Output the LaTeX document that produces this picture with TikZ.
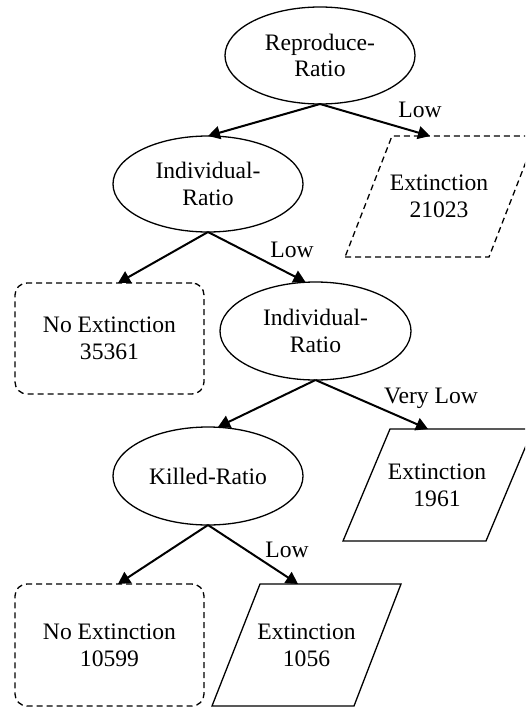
\documentclass[tikz,border=0pt]{standalone}
\usepackage{fontspec}
\setmainfont{Liberation Serif}
\usetikzlibrary{shapes.geometric,arrows.meta}
\tikzset{
  base/.style={font=\fontsize{23.6}{26.8}\selectfont, align=center, inner sep=0pt, outer sep=0pt, line width=1.3pt},
  decision/.style={base, draw, ellipse, minimum width=190pt, minimum height=97pt},
  leafbox/.style={base, draw, rounded corners=12pt, dash pattern=on 6pt off 4pt, minimum width=189pt},
  txt/.style={base},
  shapeline/.style={line width=1.3pt, line join=miter},
  dashline/.style={shapeline, dash pattern=on 6pt off 4pt},
  conn/.style={line width=2pt, -{Triangle[length=12pt,width=13pt]}},
  lbl/.style={font=\fontsize{23.6}{26.8}\selectfont, anchor=base, inner sep=0pt}
}
\begin{document}
\begin{tikzpicture}[x=1pt,y=-1pt]
\useasboundingbox (0,0) rectangle (525,707);
\clip (0,0) rectangle (525,707);
\node[decision] (e1) at (320,55.5) {Reproduce-\\Ratio};
\node[decision, minimum height=96pt] (e2) at (208,184) {Individual-\\Ratio};
\node[decision, minimum width=191pt, minimum height=98pt] (e3) at (315.5,331) {Individual-\\Ratio};
\node[decision, minimum height=98pt] (e4) at (208,476) {Killed-Ratio};
\node[leafbox, minimum height=111pt] (r1) at (109.5,338.5) {No Extinction\\35361};
\node[leafbox, minimum height=122pt] (r2) at (109.5,645) {No Extinction\\10599};
% parallelograms
\draw[dashline] (345,257) -- (489,257) -- (536,136) -- (392,136) -- cycle;
\node[txt] (p1) at (439,196.5) {Extinction\\21023};
\coordinate (p1top) at (430,136);
\draw[shapeline] (343,541) -- (486,541) -- (533,429) -- (390,429) -- cycle;
\node[txt] (p2) at (437,485) {Extinction\\1961};
\coordinate (p2top) at (428,429);
\draw[shapeline] (212,706) -- (354,706) -- (401,584) -- (260,584) -- cycle;
\node[txt] (p3) at (306.5,645) {Extinction\\1056};
\coordinate (p3top) at (298,584);
\draw[conn] (e1.south) -- (e2.north);
\draw[conn] (e1.south) -- (p1top);
\draw[conn] (e2.south) -- ([xshift=8.5pt]r1.north);
\draw[conn] (e2.south) -- ([xshift=-10pt]e3.north);
\draw[conn] (e3.south) -- ([xshift=10pt]e4.north);
\draw[conn] (e3.south) -- (p2top);
\draw[conn] (e4.south) -- ([xshift=8.5pt]r2.north);
\draw[conn] (e4.south) -- (p3top);
\node[lbl] (l1) at (420,117) {Low};
\node[lbl] (l2) at (292,257) {Low};
\node[lbl] (l3) at (431,403) {Very Low};
\node[lbl] (l4) at (287,557) {Low};
\end{tikzpicture}
\end{document}
